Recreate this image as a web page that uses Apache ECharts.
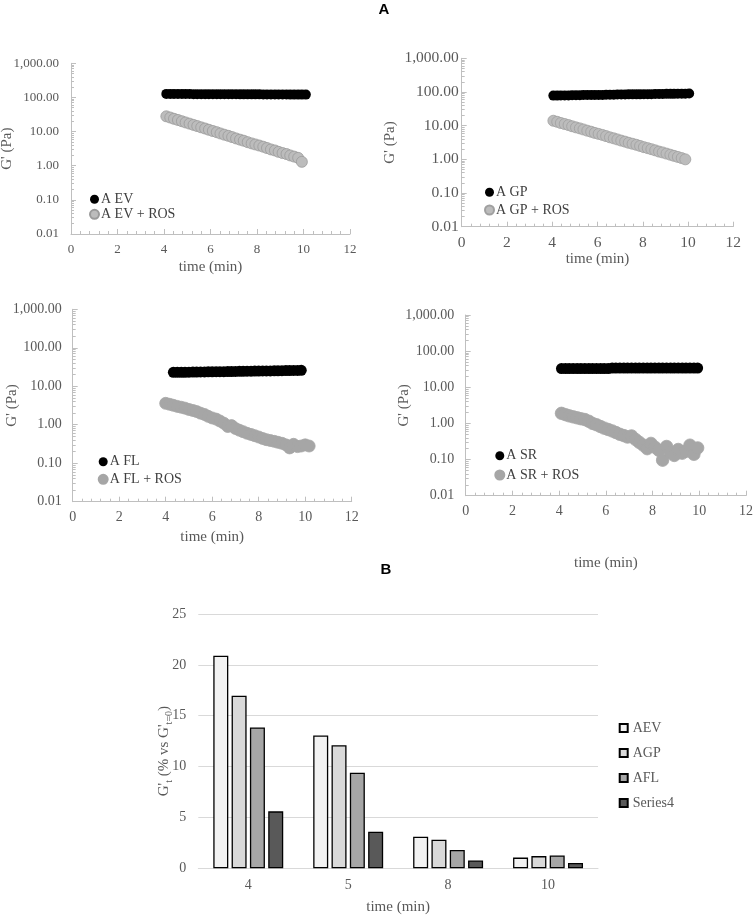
<!DOCTYPE html>
<html><head><meta charset="utf-8">
<script src="https://cdn.jsdelivr.net/npm/echarts@6/dist/echarts.min.js"></script>
<style>html,body{margin:0;padding:0;background:#fff}#c{width:753px;height:917px}</style>
</head><body><div id="c"></div><script>
// ---------- DATA ----------
const timeEV = [4.10,4.27,4.43,4.60,4.77,4.93,5.10,5.27,5.43,5.60,5.77,5.93,6.10,6.27,6.43,6.60,6.77,6.93,7.10,7.27,7.43,7.60,7.77,7.93,8.10,8.27,8.43,8.60,8.77,8.93,9.10,9.27,9.43,9.60,9.77,9.93,10.10];
const ctrlEV = [127,127,126,126,126,126,126,125,125,125,125,125,125,124,124,124,124,124,124,123,123,123,123,123,123,122,122,122,122,122,122,122,121,121,121,121,121];
const rosEV  = [28,25.8,23.7,21.9,20.1,18.5,17.1,15.7,14.5,13.3,12.3,11.3,10.4,9.6,8.8,8.1,7.5,6.9,6.3,5.8,5.4,4.9,4.5,4.2,3.9,3.6,3.3,3.0,2.8,2.55,2.35,2.2,2.0,1.85,1.7,1.3,null];

const timeGP = [4.05,4.22,4.38,4.55,4.72,4.88,5.05,5.22,5.38,5.55,5.72,5.88,6.05,6.22,6.38,6.55,6.72,6.88,7.05,7.22,7.38,7.55,7.72,7.88,8.05,8.22,8.38,8.55,8.72,8.88,9.05,9.22,9.38,9.55,9.72,9.88,10.05];
const ctrlGP = [78,78,79,79,79,80,80,80,81,81,81,82,82,82,83,83,83,84,84,84,85,85,85,85,86,86,86,87,87,87,88,88,88,89,89,89,90];
const rosGP  = [14,13.0,12.0,11.2,10.4,9.6,8.9,8.3,7.7,7.1,6.6,6.1,5.7,5.3,4.9,4.5,4.2,3.9,3.6,3.35,3.1,2.9,2.7,2.5,2.3,2.15,2.0,1.85,1.7,1.6,1.48,1.37,1.27,1.18,1.09,1.0,null];

const timeFL = [4.00,4.17,4.33,4.50,4.67,4.83,5.00,5.17,5.33,5.50,5.67,5.83,6.00,6.17,6.33,6.50,6.67,6.83,7.00,7.17,7.33,7.50,7.67,7.83,8.00,8.17,8.33,8.50,8.67,8.83,9.00,9.17,9.33,9.50,9.67,9.83,10.00,10.17];
const ctrlFL = [null,null,23,23,23,23,23.2,23.3,23.4,23.5,23.6,23.7,23.8,23.9,24,24,24.1,24.2,24.3,24.4,24.5,24.6,24.7,24.8,24.9,25,25,25.1,25.2,25.3,25.4,25.5,25.6,25.7,25.8,26,null,null];
const rosFL  = [3.6,3.4,3.2,3.0,2.85,2.7,2.5,2.35,2.2,2.0,1.85,1.65,1.5,1.4,1.25,1.1,0.9,0.95,0.8,0.72,0.66,0.6,0.56,0.52,0.48,0.44,0.41,0.39,0.37,0.35,0.33,0.3,0.25,0.31,0.27,0.28,0.3,0.28];

const timeSR = [4.10,4.27,4.43,4.60,4.77,4.93,5.10,5.27,5.43,5.60,5.77,5.93,6.10,6.27,6.43,6.60,6.77,6.93,7.10,7.27,7.43,7.60,7.77,7.93,8.10,8.27,8.43,8.60,8.77,8.93,9.10,9.27,9.43,9.60,9.77,9.93,10.10];
const ctrlSR = [33,33,33,33,33,33,33,33,33,33,33,33,33,34,34,34,34,34,34,34,34,34,34,34,34,34,34,34,34,34,34,34,34,34,34,34,null];
const rosSR  = [1.9,1.75,1.62,1.52,1.43,1.35,1.28,1.15,1.0,0.92,0.82,0.74,0.68,0.62,0.56,0.5,0.46,0.42,0.45,0.36,0.3,0.25,0.2,0.28,0.22,0.18,0.096,0.23,0.16,0.13,0.19,0.15,0.17,0.25,0.14,0.21,null];

const barCategories = ['4','5','8','10'];
const barAEV = [20.9,13.05,3.1,1.05];
const barAGP = [16.97,12.1,2.8,1.2];
const barAFL = [13.85,9.4,1.8,1.27];
const barS4  = [5.6,3.6,0.77,0.52];
const barNames = ['AEV','AGP','AFL','Series4'];

// ---------- STYLE ----------
const SERIF = '"Liberation Serif","Times New Roman",serif';
const SANS = '"Liberation Sans",Arial,sans-serif';
const LABEL = '#595959';
const AXIS = '#bfbfbf';

function fmtLog(v){ const r = Number(Number(v).toPrecision(6)); return r.toLocaleString('en-US',{minimumFractionDigits:2,maximumFractionDigits:2}); }
function pairs(t, v){ const out=[]; for(let i=0;i<t.length;i++){ if(v[i]!=null) out.push([t[i], v[i]]); } return out; }

const panels = [
  {grid:{left:71,top:63.3,width:279,height:170.7}, t:timeEV, ctrl:ctrlEV, ros:rosEV, names:['A EV','A EV + ROS'],
   lab:13, labM:12, xLabM:9, yGap:56, xGap:26, leg:{left:89,top:192.3,gap:1}, rosColor:'#bcbcbc', rosBorder:'#9a9a9a', cs:10, rs:11},
  {grid:{left:461.7,top:58.3,width:271.6,height:168.4}, t:timeGP, ctrl:ctrlGP, ros:rosGP, names:['A GP','A GP + ROS'],
   lab:15.5, labM:3, xLabM:8, yGap:64, xGap:25, leg:{left:484,top:185.3,gap:3.7}, rosColor:'#bcbcbc', rosBorder:'#a0a0a0', cs:10, rs:11},
  {grid:{left:72.7,top:309.3,width:279,height:192.4}, t:timeFL, ctrl:ctrlFL, ros:rosFL, names:['A FL','A FL + ROS'],
   lab:14, labM:11, xLabM:9, yGap:53, xGap:28, leg:{left:97.7,top:454.7,gap:3.6}, rosColor:'#a6a6a6', rosBorder:'#a6a6a6', cs:11, rs:12},
  {grid:{left:465.7,top:315,width:280.3,height:180.7}, t:timeSR, ctrl:ctrlSR, ros:rosSR, names:['A SR','A SR + ROS'],
   lab:14, labM:11.5, xLabM:9, yGap:54, xGap:60, leg:{left:494.3,top:448.7,gap:5.3}, rosColor:'#a6a6a6', rosBorder:'#a6a6a6', cs:11, rs:12.5}
];

const grids=[], xAxes=[], yAxes=[], series=[], legends=[];
panels.forEach((p,i)=>{
  grids.push(Object.assign({containLabel:false, outerBoundsMode:'none'}, p.grid));
  xAxes.push({gridIndex:i, type:'value', min:0, max:12, interval:2,
    axisLine:{show:true, lineStyle:{color:AXIS, width:1}},
    axisTick:{show:true, inside:true, length:5, lineStyle:{color:AXIS}},
    minorTick:{show:true, splitNumber:5, length:3, lineStyle:{color:AXIS}},
    splitLine:{show:false},
    axisLabel:{color:LABEL, fontFamily:SERIF, fontSize:p.lab, margin:p.xLabM},
    name:'time (min)', nameLocation:'middle', nameGap:p.xGap, nameMoveOverlap:false,
    nameTextStyle:{color:LABEL, fontFamily:SERIF, fontSize:15}});
  yAxes.push({gridIndex:i, type:'log', logBase:10, min:0.01, max:1000,
    axisLine:{show:true, lineStyle:{color:AXIS, width:1}},
    axisTick:{show:true, inside:true, length:5, lineStyle:{color:AXIS}},
    minorTick:{show:true, splitNumber:9, length:3, lineStyle:{color:AXIS}},
    splitLine:{show:false},
    axisLabel:{color:LABEL, fontFamily:SERIF, fontSize:p.lab, margin:p.labM, formatter:fmtLog},
    name:"G' (Pa)", nameLocation:'middle', nameGap:p.yGap, nameMoveOverlap:false,
    nameTextStyle:{color:LABEL, fontFamily:SERIF, fontSize:15}});
  series.push({name:p.names[0], type:'scatter', xAxisIndex:i, yAxisIndex:i, data:pairs(p.t,p.ctrl),
    symbol:'circle', symbolSize:p.cs, itemStyle:{color:'#000', opacity:1}, z:3});
  series.push({name:p.names[1], type:'scatter', xAxisIndex:i, yAxisIndex:i, data:pairs(p.t,p.ros),
    symbol:'circle', symbolSize:p.rs, itemStyle:{color:p.rosColor, borderColor:p.rosBorder, borderWidth:0.8, opacity:1}, z:2});
  legends.push({data:p.names, orient:'vertical', left:p.leg.left, top:p.leg.top, itemGap:p.leg.gap,
    itemWidth:9, itemHeight:9, icon:'circle', padding:0,
    textStyle:{color:'#404040', fontFamily:SERIF, fontSize:14, lineHeight:14, padding:[0,0,0,-3]}});
});

// Bar chart (grid 4)
grids.push({left:198.3, top:614, width:399.7, height:254.3, containLabel:false, outerBoundsMode:'none'});
xAxes.push({gridIndex:4, type:'category', data:barCategories,
  axisLine:{show:true, lineStyle:{color:'#d9d9d9', width:1}}, axisTick:{show:false},
  axisLabel:{color:LABEL, fontFamily:SERIF, fontSize:14, margin:10},
  name:'time (min)', nameLocation:'middle', nameGap:31, nameMoveOverlap:false,
  nameTextStyle:{color:LABEL, fontFamily:SERIF, fontSize:15}});
yAxes.push({gridIndex:4, type:'value', min:0, max:25, interval:5,
  axisLine:{show:false}, axisTick:{show:false},
  splitLine:{show:true, lineStyle:{color:'#d9d9d9', width:1}},
  axisLabel:{color:LABEL, fontFamily:SERIF, fontSize:14, margin:12},
  name:"{m|G'}{s|t}{m| (% vs G'}{s|t=0}{m|)}", nameLocation:'middle', nameGap:24, nameMoveOverlap:false,
  nameTextStyle:{color:LABEL, fontFamily:SERIF, fontSize:15, padding:[0,20,0,0],
    rich:{m:{color:LABEL, fontFamily:SERIF, fontSize:15, lineHeight:20, verticalAlign:'middle'},
          s:{color:LABEL, fontFamily:SERIF, fontSize:10, lineHeight:10, verticalAlign:'bottom'}}}});
const barColors = ['#f2f2f2','#d9d9d9','#a6a6a6','#595959'];
[barAEV,barAGP,barAFL,barS4].forEach((vals,k)=>{
  series.push({name:barNames[k], type:'bar', xAxisIndex:4, yAxisIndex:4, data:vals,
    barGap:'22%', barCategoryGap:'30%',
    itemStyle:{color:barColors[k], borderColor:'#000', borderWidth:1.3}});
});
legends.push({data:barNames, orient:'vertical', left:618.7, top:721, itemGap:11,
  itemWidth:8, itemHeight:8, icon:'rect', padding:0,
  textStyle:{color:LABEL, fontFamily:SERIF, fontSize:14, lineHeight:14}});

const chart = echarts.init(document.getElementById('c'), null, {renderer:'canvas'});
chart.setOption({
  animation:false,
  backgroundColor:'#fff',
  grid:grids, xAxis:xAxes, yAxis:yAxes, series:series, legend:legends,
  graphic:[
    {type:'text', x:384, y:10, style:{text:'A', font:'bold 15px '+SANS, fill:'#000', textAlign:'center', textVerticalAlign:'middle'}},
    {type:'text', x:386, y:569.5, style:{text:'B', font:'bold 15px '+SANS, fill:'#000', textAlign:'center', textVerticalAlign:'middle'}}
  ]
});
</script></body></html>
